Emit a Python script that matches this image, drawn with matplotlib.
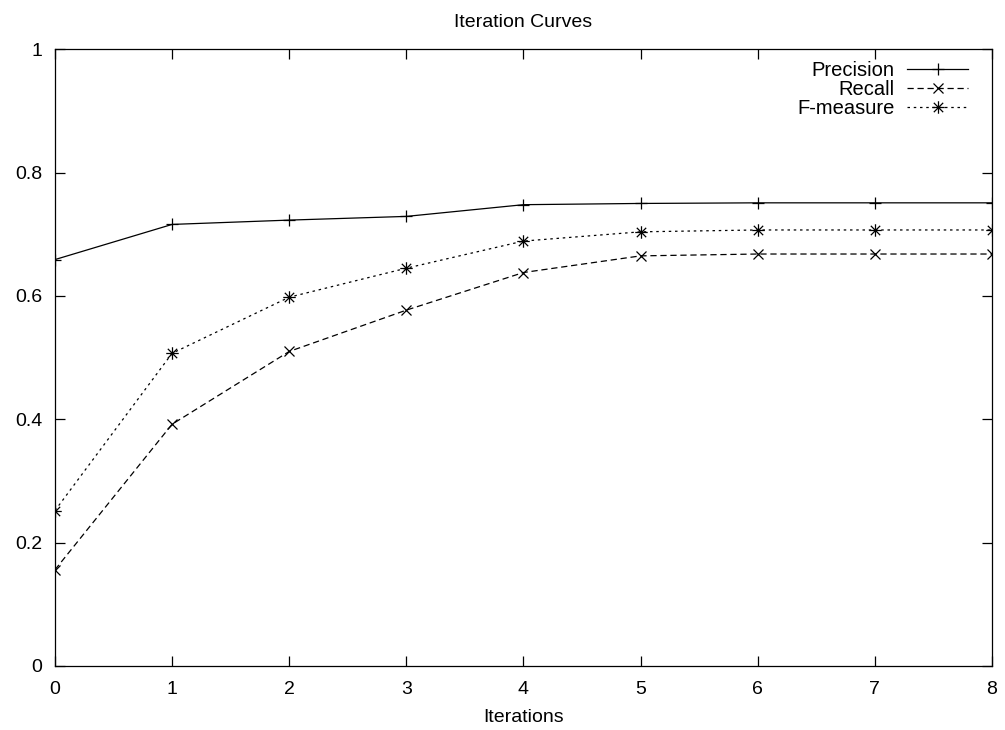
import matplotlib
matplotlib.use("Agg")
import matplotlib.pyplot as plt
from matplotlib.path import Path

plt.rcParams["font.family"] = ["Liberation Sans", "DejaVu Sans"]
plt.rcParams["font.size"] = 14

iterations = [0, 1, 2, 3, 4, 5, 6, 7, 8]
precision = [0.659, 0.716, 0.723, 0.729, 0.748, 0.750, 0.751, 0.751, 0.751]
recall = [0.156, 0.392, 0.510, 0.577, 0.638, 0.665, 0.668, 0.668, 0.668]
f_measure = [0.252, 0.507, 0.598, 0.645, 0.689, 0.704, 0.707, 0.707, 0.707]

# gnuplot style star: a "+" laid over an "x"
star = Path(
    [(-1, 0), (1, 0), (0, -1), (0, 1), (-0.75, -0.75), (0.75, 0.75), (-0.75, 0.75), (0.75, -0.75)],
    [Path.MOVETO, Path.LINETO] * 4,
)

fig = plt.figure(figsize=(10.05, 7.3), dpi=100)
ax = fig.add_axes([0.0547, 0.0877, 0.9323, 0.8448])

ax.plot(iterations, precision, color="black", lw=0.9, marker="+", ms=9, mew=0.9,
        label="Precision")
ax.plot(iterations, recall, color="black", lw=0.9, ls=(0, (5, 3)), marker="x", ms=7,
        mew=0.9, label="Recall")
ax.plot(iterations, f_measure, color="black", lw=0.9, ls=(0, (2, 3)), marker=star,
        ms=9, mew=0.9, label="F-measure")

ax.set_xlim(0, 8)
ax.set_ylim(0, 1)
ax.set_xticks(range(0, 9))
ax.set_yticks([0, 0.2, 0.4, 0.6, 0.8, 1])
ax.set_yticklabels(["0", "0.2", "0.4", "0.6", "0.8", "1"])
ax.tick_params(direction="in", length=7, width=0.9, top=True, right=True, labelsize=14)
ax.tick_params(axis="y", pad=9)
ax.tick_params(axis="x", pad=11)
for s in ax.spines.values():
    s.set_linewidth(0.9)

ax.set_title("Iteration Curves", fontsize=14, pad=16)
ax.set_xlabel("Iterations", fontsize=14, labelpad=8)

leg = ax.legend(loc="upper right", bbox_to_anchor=(1 - 8 / 937, 1 + 4 / 617),
                frameon=False, markerfirst=False,
                handlelength=3.0, handletextpad=0.65, labelspacing=0.0,
                borderaxespad=0.3, borderpad=0.5, fontsize=14.5)
for t in leg.get_texts():
    t.set_ha("right")
leg._legend_box.align = "right"

fig.savefig("out.png", dpi=100)
